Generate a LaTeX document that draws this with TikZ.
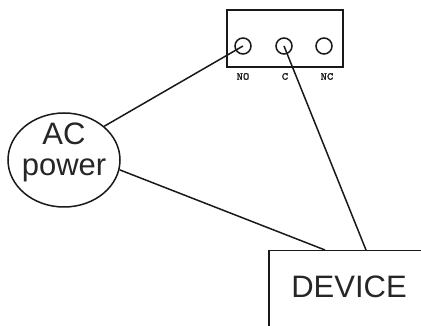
\documentclass[tikz,border=0pt]{standalone}
\usepackage{fontspec}
\setmainfont{Liberation Sans}
\newfontfamily\termfont[FakeBold=2,FakeStretch=1.15]{Latin Modern Mono}
\usetikzlibrary{shapes.geometric}
\tikzset{
  wire/.style={line width=1.5pt,draw=black!90},
  terminal/.style={circle,draw=black!90,line width=1.5pt,minimum size=16pt,inner sep=0pt},
  termlabel/.style={font=\termfont\fontsize{10.5}{10.5}\selectfont,inner sep=0pt,text=black!90},
  biglabel/.style={font=\fontsize{31}{33}\selectfont,text=black!85,align=center,inner sep=0pt},
}
\begin{document}
\begin{tikzpicture}[x=1pt,y=-1pt]
\useasboundingbox (0,0) rectangle (421,326);
\begin{scope}
\clip (0,0) rectangle (421,326);
\node[wire,draw,anchor=north west,minimum width=250pt,minimum height=150pt,inner sep=0pt] (device) at (268,250) {};
\end{scope}
\node[wire,draw,anchor=north west,minimum width=116pt,minimum height=57pt,inner sep=0pt] (relay) at (226,9.5) {};
\node[terminal] (no) at (243,46) {};
\node[terminal] (c) at (284,46) {};
\node[terminal] (nc) at (324,46) {};
\node[termlabel] (nol) at (243,76.5) {NO};
\node[termlabel] (cl) at (285,76.5) {C};
\node[termlabel] (ncl) at (327,76.5) {NC};
\node[ellipse,wire,draw,minimum width=112pt,minimum height=94pt,inner sep=0pt] (ac) at (64,160) {};
\node[biglabel] (actext) at (64,152) {AC\\[-2pt]power};
\node[biglabel] (devtext) at (349,287) {DEVICE};
\coordinate (d1) at (325,250);
\coordinate (d2) at (366,250);
\draw[wire] (no.center) -- (ac.40);
\draw[wire] (ac.-10) -- (d1);
\draw[wire] (c.center) -- (d2);
\end{tikzpicture}
\end{document}
